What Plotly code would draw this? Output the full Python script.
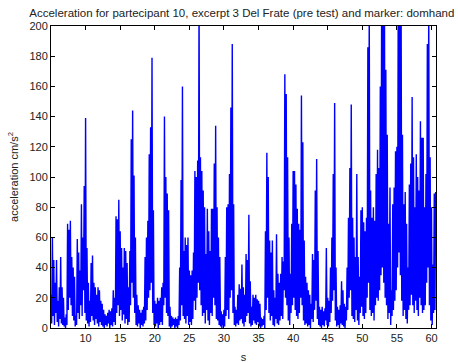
import numpy as np
import plotly.graph_objects as go

# Time axis (s): local maxima sampled every 0.2 s starting at 5.0 s, minima in between
t_start = 5.0
t_step = 0.2

peaks = [
    22, 60, 45, 30, 45, 18, 27, 47, 27, 20,
    7, 9, 69, 65, 71, 47, 40, 34, 8, 59,
    50, 38, 82, 60, 94, 139, 53, 30, 18, 43,
    48, 30, 27, 22, 27, 25, 18, 16, 12, 9,
    8, 10, 12, 11, 13, 25, 20, 74, 72, 85,
    64, 53, 40, 53, 51, 43, 27, 51, 125, 144,
    101, 60, 22, 15, 12, 10, 12, 14, 47, 60,
    71, 115, 133, 179, 78, 18, 16, 20, 18, 20,
    27, 30, 140, 100, 89, 78, 14, 8, 7, 6,
    7, 6, 8, 40, 98, 160, 51, 60, 55, 60,
    38, 35, 38, 50, 104, 100, 111, 220, 113, 104,
    91, 80, 49, 79, 64, 51, 79, 79, 109, 134,
    80, 60, 47, 11, 9, 12, 47, 80, 82, 102,
    146, 188, 82, 14, 12, 22, 29, 26, 42, 27,
    22, 49, 45, 75, 31, 14, 22, 20, 22, 19,
    18, 16, 7, 6, 8, 64, 116, 100, 58, 50,
    58, 25, 20, 62, 36, 30, 36, 47, 44, 168,
    155, 113, 60, 36, 69, 104, 104, 95, 79, 69,
    65, 154, 123, 58, 34, 30, 25, 22, 16, 49,
    45, 91, 112, 51, 14, 12, 14, 11, 13, 53,
    20, 18, 40, 60, 102, 149, 40, 14, 12, 15,
    31, 25, 16, 14, 40, 73, 106, 148, 73, 60,
    47, 102, 47, 34, 78, 80, 70, 64, 73, 186,
    210, 91, 73, 80, 71, 102, 118, 106, 160, 230,
    250, 215, 171, 128, 69, 93, 25, 82, 93, 117,
    120, 240, 260, 230, 128, 82, 90, 69, 40, 95,
    109, 153, 113, 80, 115, 100, 91, 137, 126, 126,
    80, 102, 188, 215, 113, 80, 42, 89, 90,
]

troughs = [
    3, 8, 2, 10, 4, 1, 6, 3, 2, 1,
    0, 2, 12, 20, 15, 8, 5, 1, 2, 10,
    6, 15, 8, 25, 10, 5, 3, 1, 4, 8,
    5, 2, 6, 3, 1, 4, 2, 1, 0, 2,
    1, 3, 0, 2, 1, 4, 2, 10, 15, 8,
    12, 5, 9, 3, 6, 2, 4, 15, 30, 20,
    10, 2, 1, 3, 0, 2, 1, 3, 5, 12,
    20, 25, 30, 10, 2, 1, 3, 0, 2, 4,
    2, 15, 20, 10, 8, 1, 0, 1, 2, 0,
    1, 0, 2, 5, 15, 8, 6, 3, 8, 2,
    4, 2, 6, 18, 12, 20, 30, 25, 15, 8,
    10, 3, 12, 5, 2, 10, 8, 20, 15, 6,
    5, 2, 1, 0, 2, 1, 8, 12, 6, 20,
    25, 10, 2, 1, 3, 2, 5, 6, 3, 1,
    4, 8, 10, 3, 1, 2, 5, 3, 2, 4,
    1, 0, 1, 2, 0, 12, 20, 10, 5, 8,
    2, 1, 6, 3, 2, 5, 8, 6, 25, 20,
    15, 5, 2, 10, 15, 20, 12, 8, 6, 10,
    20, 15, 5, 2, 3, 1, 2, 0, 6, 4,
    12, 18, 6, 2, 1, 0, 2, 1, 5, 2,
    1, 4, 10, 18, 25, 5, 1, 2, 0, 3,
    2, 1, 0, 5, 12, 20, 25, 8, 6, 4,
    12, 5, 2, 10, 14, 8, 6, 10, 20, 30,
    12, 8, 10, 5, 15, 20, 18, 25, 35, 40,
    30, 20, 15, 6, 10, 2, 8, 12, 18, 25,
    40, 50, 35, 18, 8, 12, 6, 3, 12, 15,
    22, 15, 10, 18, 12, 8, 20, 15, 10, 12,
    15, 30, 40, 15, 5, 2, 10, 12,
]

x_ticks = [10, 15, 20, 25, 30, 35, 40, 45, 50, 55, 60]
y_ticks = [0, 20, 40, 60, 80, 100, 120, 140, 160, 180, 200]

# Interleave maxima and minima into one time series
n = len(peaks)
t_peaks = t_start + t_step * np.arange(n)
t_troughs = t_peaks[:-1] + t_step / 2
t = np.empty(2 * n - 1)
v = np.empty(2 * n - 1)
t[0::2] = t_peaks
t[1::2] = t_troughs
v[0::2] = peaks
v[1::2] = troughs[: n - 1]

fig = go.Figure(
    go.Scatter(x=t, y=v, mode="lines", line=dict(color="#0000FF", width=1.4),
               hoverinfo="skip", showlegend=False)
)

font_family = "Liberation Sans, Arial, sans-serif"
axis_common = dict(
    showline=True, linecolor="#000000", linewidth=1, mirror="allticks",
    ticks="inside", ticklen=4, tickcolor="#000000", showgrid=False, zeroline=False,
    automargin=False,
    tickfont=dict(family=font_family, size=11, color="#222222"),
)

fig.update_layout(
    width=458, height=363,
    margin=dict(l=51, r=22, t=26, b=35),
    paper_bgcolor="white", plot_bgcolor="white",
    title=dict(
        text="Acceleration for partecipant 10, excerpt 3 Del Frate (pre test) and marker: domhand",
        x=0.528, xanchor="center", y=0.965, yanchor="middle",
        font=dict(family=font_family, size=11.5, color="#222222"),
    ),
    xaxis=dict(range=[5.0, 60.65], tickvals=x_ticks, ticktext=[str(x) for x in x_ticks],
               title=dict(text="s", standoff=12,
                          font=dict(family=font_family, size=11, color="#222222")),
               **axis_common),
    yaxis=dict(range=[0, 200], tickvals=y_ticks, ticktext=[str(y) for y in y_ticks],
               title=dict(text="acceleration cm/s<sup>2</sup>", standoff=8,
                          font=dict(family=font_family, size=11, color="#222222")),
               **axis_common),
)

fig.write_html("out.html")
